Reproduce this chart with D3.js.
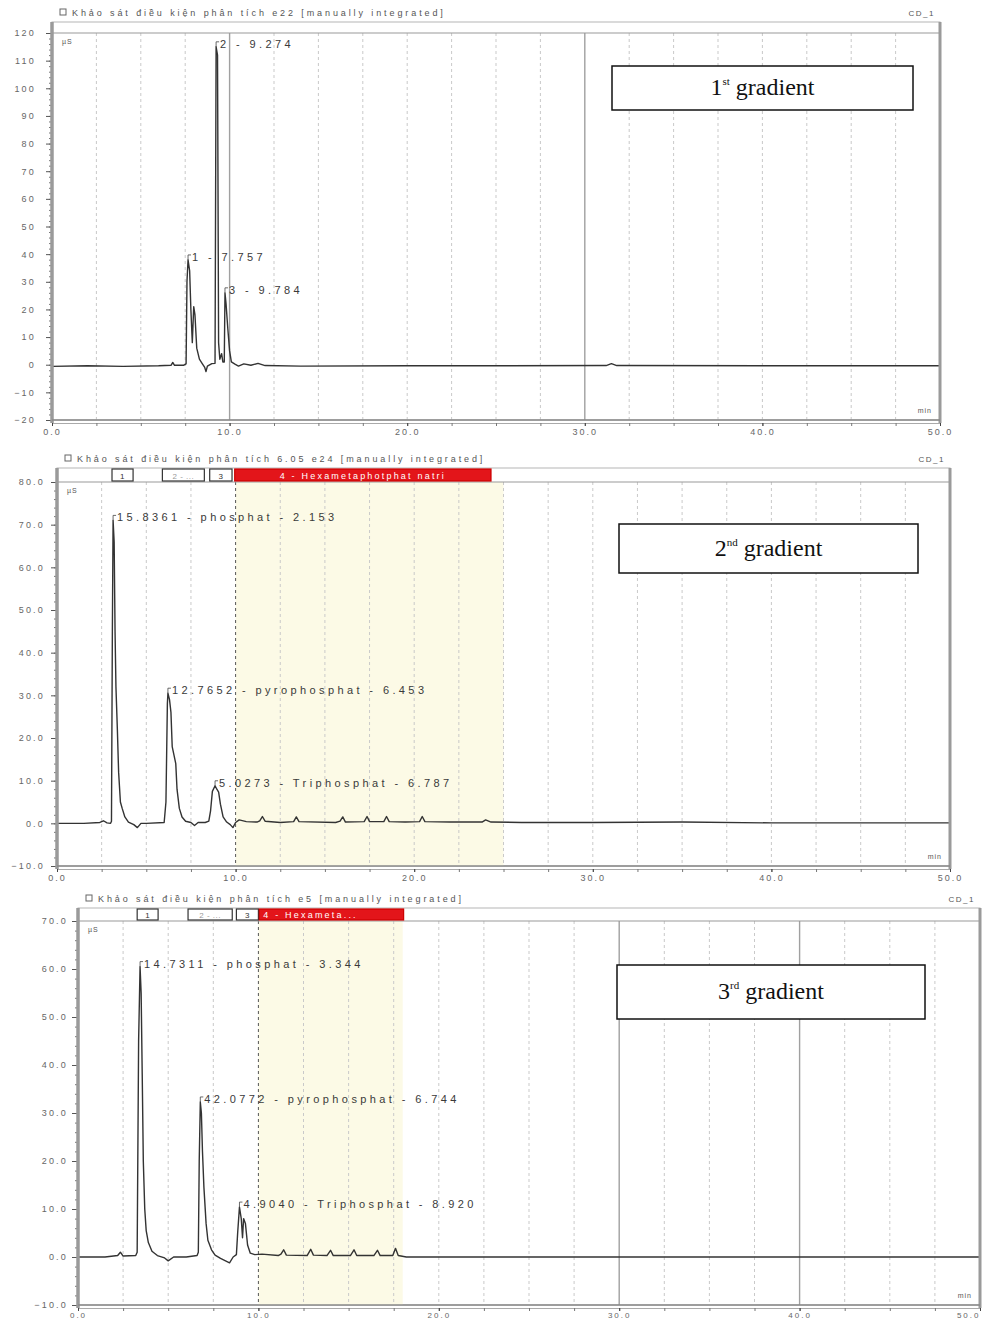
<!DOCTYPE html>
<html>
<head>
<meta charset="utf-8">
<script src="https://cdn.jsdelivr.net/npm/d3@7"></script>
<style>
body { margin: 0; background: #fff; }
svg text { font-family: Arial, "Liberation Sans", sans-serif; }
</style>
</head>
<body>
<svg id="chart"></svg>
<script>
// ---- data (time in min, signal in µS) ----
var trace1 = [[0,-0.6],[2,-0.4],[4,-0.6],[6,-0.4],[6.7,-0.2],[6.8,0.8],[6.9,-0.2],[7.4,-0.2],[7.55,0.3],[7.6,30],[7.66,37.9],[7.75,34],[7.82,20],[7.9,8],[7.98,21],[8.05,18],[8.15,6],[8.3,2],[8.45,0.5],[8.6,-1],[8.67,-2.5],[8.75,-0.5],[9.0,0.4],[9.18,0.5],[9.24,115],[9.32,112],[9.38,8],[9.45,2],[9.55,4],[9.62,1],[9.7,1],[9.74,26],[9.8,22],[9.9,13],[10.0,5],[10.1,1],[10.3,0.2],[10.5,-0.5],[10.8,0.3],[11.2,-0.2],[11.6,0.5],[12,-0.3],[14,-0.5],[20,-0.4],[25,-0.4],[31.2,-0.3],[31.5,0.4],[31.8,-0.3],[40,-0.4],[50,-0.4]];

var trace2 = [[0,0],[1.5,0],[2.4,0.2],[2.6,0.6],[2.8,0.1],[3.0,0],[3.05,0.5],[3.1,45],[3.14,71],[3.2,66],[3.25,45],[3.3,32],[3.38,22],[3.45,12],[3.55,5],[3.65,3.5],[3.8,1.5],[4.0,0.3],[4.3,-0.3],[4.5,-1],[4.7,0],[5,0],[6.0,0.2],[6.1,5],[6.18,28],[6.21,30.5],[6.3,29],[6.38,26],[6.45,18],[6.55,16],[6.65,14],[6.72,8],[6.85,3.5],[7.0,1.5],[7.2,0.5],[7.5,0.2],[7.7,-0.5],[7.9,0.2],[8.3,0.2],[8.5,0.5],[8.6,3],[8.7,7.5],[8.85,8.8],[8.95,8],[9.05,7.3],[9.15,4.5],[9.3,1.5],[9.5,0.3],[9.7,-0.3],[9.85,-1],[10.0,0.2],[10.2,0.8],[10.6,0.4],[11.2,0.3],[11.35,0.6],[11.5,1.6],[11.65,0.5],[12.5,0.2],[13.25,0.4],[13.4,1.5],[13.55,0.4],[15.6,0.2],[15.85,0.5],[16.0,1.5],[16.15,0.3],[17.2,0.4],[17.36,1.6],[17.5,0.4],[18.3,0.4],[18.45,1.6],[18.6,0.4],[19.5,0.3],[20.3,0.4],[20.45,1.6],[20.6,0.4],[22,0.3],[23.8,0.3],[24.0,0.8],[24.3,0.3],[26,0.2],[30,0.2],[35,0.3],[40,0.1],[50,0.1]];

var trace3 = [[0,0],[1.5,0],[2.2,0.3],[2.35,1],[2.5,0.2],[3.2,0.3],[3.28,1],[3.36,45],[3.44,60.5],[3.5,55],[3.56,38],[3.62,20],[3.7,10],[3.78,5.5],[3.9,3],[4.1,1.2],[4.4,0.3],[4.8,-0.2],[5.0,-0.8],[5.3,0],[6.0,0],[6.6,0.3],[6.67,1],[6.72,20],[6.78,32.3],[6.84,30],[6.9,22],[6.98,14.5],[7.1,7],[7.2,3.5],[7.4,1.5],[7.6,0.4],[7.9,-0.3],[8.4,-1.2],[8.6,0],[8.78,0.5],[8.85,5],[8.95,10.4],[9.05,8],[9.12,4],[9.18,8],[9.28,7],[9.4,2.5],[9.55,0.8],[9.8,0.5],[10.2,0.6],[11.1,0.3],[11.25,0.6],[11.4,1.5],[11.55,0.4],[12.7,0.3],[12.9,1.6],[13.05,0.4],[13.8,0.3],[14.0,1.4],[14.15,0.3],[15.1,0.3],[15.3,1.5],[15.45,0.3],[16.4,0.3],[16.6,1.4],[16.75,0.3],[17.45,0.3],[17.6,1.8],[17.75,0.3],[18.2,0],[25,0],[35,0],[50,0]];

var peaks1 = [{t:7.66, v:37.9, label:"1 - 7.757"}, {t:9.24, v:115, label:"2 - 9.274"}, {t:9.74, v:26, label:"3 - 9.784"}];
var peaks2 = [{t:3.14, v:71, label:"15.8361 - phosphat - 2.153"}, {t:6.21, v:30.5, label:"12.7652 - pyrophosphat - 6.453"}, {t:8.85, v:8.8, label:"5.0273 - Triphosphat - 6.787"}];
var peaks3 = [{t:3.44, v:60.5, label:"14.7311 - phosphat - 3.344"}, {t:6.78, v:32.3, label:"42.0772 - pyrophosphat - 6.744"}, {t:8.95, v:10.4, label:"4.9040 - Triphosphat - 8.920"}];

var xTicks = [0, 10, 20, 30, 40, 50];
var yTicks1 = [-20, -10, 0, 10, 20, 30, 40, 50, 60, 70, 80, 90, 100, 110, 120];
var yTicks2 = [-10, 0, 10, 20, 30, 40, 50, 60, 70, 80];
var yTicks3 = [-10, 0, 10, 20, 30, 40, 50, 60, 70];

var titles = ["Khảo sát điều kiện phân tích e22 [manually integrated]",
              "Khảo sát điều kiện phân tích 6.05 e24 [manually integrated]",
              "Khảo sát điều kiện phân tích e5 [manually integrated]"];
var gradNum = ["1", "2", "3"];
var gradSup = ["st", "nd", "rd"];

// timed-event windows in the header strip (start, end, text)
var bands2 = [[3.08, 4.26, "1"], [5.9, 8.25, "2 - ..."], [8.55, 9.8, "3"], [9.95, 24.3, "4 - Hexametaphotphat natri"]];
var bands3 = [[3.28, 4.44, "1"], [6.1, 8.55, "2 - ..."], [8.78, 10.0, "3"], [10.05, 18.05, "4 - Hexameta..."]];
var shade2 = [10, 25];
var shade3 = [10, 18];

var svg = d3.select("#chart").attr("width", 988).attr("height", 1320);

var panels = [
  {trace: trace1, peaks: peaks1, yTicks: yTicks1, fmt: d3.format("d"), bands: [], shade: null,
   left: 52, right: 940, frameTop: 22, top: 33, bottom: 420, yMin: -20, yMax: 120, gap: 14, xPad: 3,
   solid: [10, 30], dark: [], box: {x: 612, y: 66, w: 301, h: 44}},
  {trace: trace2, peaks: peaks2, yTicks: yTicks2, fmt: d3.format(".1f"), bands: bands2, shade: shade2,
   left: 57, right: 950, frameTop: 468, top: 482, bottom: 866, yMin: -10, yMax: 80, gap: 10, xPad: 3,
   solid: [], dark: [10], box: {x: 619, y: 524, w: 299, h: 49}},
  {trace: trace3, peaks: peaks3, yTicks: yTicks3, fmt: d3.format(".1f"), bands: bands3, shade: shade3,
   left: 78, right: 980, frameTop: 908, top: 921, bottom: 1305, yMin: -10, yMax: 70, gap: 8, xPad: 1,
   solid: [30, 40], dark: [10, 18], box: {x: 617, y: 965, w: 308, h: 54}}
];

panels.forEach(function(p, i) {
  var x = d3.scaleLinear().domain([0, 50]).range([p.left, p.right]);
  var y = d3.scaleLinear().domain([p.yMin, p.yMax]).range([p.bottom, p.top]);
  var g = svg.append("g");

  // title line above the frame
  g.append("rect").attr("x", p.left + 8).attr("y", p.frameTop - 13).attr("width", 6).attr("height", 6)
    .attr("fill", "#fff").attr("stroke", "#666");
  g.append("text").attr("x", p.left + 20).attr("y", p.frameTop - 6)
    .attr("font-size", 9).attr("letter-spacing", 2.9).attr("fill", "#555").text(titles[i]);
  g.append("text").attr("x", p.right - 5).attr("y", p.frameTop - 6).attr("text-anchor", "end")
    .attr("font-size", 8).attr("letter-spacing", 1.5).attr("fill", "#555").text("CD_1");

  // frame
  g.append("rect").attr("x", p.left).attr("y", p.frameTop)
    .attr("width", p.right - p.left).attr("height", p.bottom - p.frameTop)
    .attr("fill", "#fff").attr("stroke", "#b5b5b5");

  if (p.shade) {
    g.append("rect").attr("x", x(p.shade[0])).attr("y", p.top)
      .attr("width", x(p.shade[1]) - x(p.shade[0])).attr("height", p.bottom - p.top)
      .attr("fill", "#fcfae6");
  }

  // vertical grid every 2.5 min
  g.selectAll(".grid").data(d3.range(2.5, 50, 2.5)).enter().append("line")
    .attr("x1", function(d) { return x(d); }).attr("x2", function(d) { return x(d); })
    .attr("y1", p.top).attr("y2", p.bottom)
    .attr("stroke", function(d) {
      if (p.dark.indexOf(d) >= 0) return "#555";
      if (p.solid.indexOf(d) >= 0) return "#a0a0a0";
      return "#c9c9c9";
    })
    .attr("stroke-width", function(d) { return p.solid.indexOf(d) >= 0 ? 1.4 : 1; })
    .attr("stroke-dasharray", function(d) { return p.solid.indexOf(d) >= 0 ? null : "3,3"; });

  // header strip
  g.append("line").attr("x1", p.left).attr("x2", p.right).attr("y1", p.top).attr("y2", p.top)
    .attr("stroke", "#999").attr("stroke-width", 1.2);
  p.bands.forEach(function(b, j) {
    var red = j === p.bands.length - 1;
    g.append("rect").attr("x", x(b[0])).attr("y", p.frameTop + 1)
      .attr("width", x(b[1]) - x(b[0])).attr("height", p.top - p.frameTop - 2)
      .attr("fill", red ? "#e3151a" : "#fff").attr("stroke", red ? "#c00" : "#333").attr("stroke-width", 1.2);
    g.append("text")
      .attr("x", red && i === 2 ? x(b[0]) + 4 : (x(b[0]) + x(b[1])) / 2)
      .attr("y", p.top - 3).attr("text-anchor", red && i === 2 ? "start" : "middle")
      .attr("font-size", red ? 9 : 8).attr("letter-spacing", red ? 2.2 : 0.5)
      .attr("fill", red ? "#fff" : (j === 1 ? "#999" : "#333")).text(b[2]);
  });

  // trace
  var line = d3.line().x(function(d) { return x(d[0]); }).y(function(d) { return y(d[1]); });
  g.append("path").datum(p.trace).attr("d", line)
    .attr("fill", "none").attr("stroke", "#333").attr("stroke-width", 1.4).attr("stroke-linejoin", "round");

  // peak labels
  p.peaks.forEach(function(pk) {
    var px = x(pk.t), py = y(pk.v);
    g.append("path").attr("d", "M" + px + "," + py + "V" + (py - 5) + "h3")
      .attr("fill", "none").attr("stroke", "#444").attr("stroke-width", 0.8);
    g.append("text").attr("x", px + 4).attr("y", py + 1)
      .attr("font-size", 11).attr("letter-spacing", 3.4).attr("fill", "#3a3a3a").text(pk.label);
  });

  // y axis
  var yMinor = d3.range(p.yMin, p.yMax + 0.01, 2);
  g.append("g").attr("transform", "translate(" + p.left + ",0)")
    .call(d3.axisLeft(y).tickValues(yMinor).tickSize(3).tickFormat(""))
    .call(function(a) { a.select(".domain").remove(); a.selectAll("line").attr("stroke", "#777"); });
  g.append("g").attr("transform", "translate(" + p.left + ",0)")
    .call(d3.axisLeft(y).tickValues(p.yTicks).tickSize(6).tickPadding(p.gap - 4).tickFormat(p.fmt))
    .call(function(a) {
      a.select(".domain").remove();
      a.selectAll("line").attr("stroke", "#555");
      a.selectAll("text").attr("font-size", 9).attr("letter-spacing", 2.2).attr("fill", "#666");
    });
  g.append("line").attr("x1", p.left).attr("x2", p.left).attr("y1", p.frameTop).attr("y2", p.bottom + 3)
    .attr("stroke", "#9a9a9a").attr("stroke-width", 3.5);
  g.append("line").attr("x1", p.right).attr("x2", p.right).attr("y1", p.frameTop).attr("y2", p.bottom + 3)
    .attr("stroke", "#9a9a9a").attr("stroke-width", 3);

  // x axis (double line)
  g.append("line").attr("x1", p.left).attr("x2", p.right).attr("y1", p.bottom).attr("y2", p.bottom)
    .attr("stroke", "#888").attr("stroke-width", 1.5);
  g.append("g").attr("transform", "translate(0," + (p.bottom + 3) + ")")
    .call(d3.axisBottom(x).tickValues(d3.range(0, 50.01, 2.5)).tickSize(3).tickFormat(""))
    .call(function(a) { a.select(".domain").attr("stroke", "#aaa"); a.selectAll("line").attr("stroke", "#777"); });
  g.append("g").attr("transform", "translate(0," + (p.bottom + 3) + ")")
    .call(d3.axisBottom(x).tickValues(xTicks).tickSize(3).tickPadding(p.xPad).tickFormat(d3.format(".1f")))
    .call(function(a) {
      a.select(".domain").remove();
      a.selectAll("line").attr("stroke", "#444");
      a.selectAll("text").attr("font-size", i === 2 ? 8 : 9).attr("letter-spacing", 2).attr("fill", "#666")
        .attr("text-anchor", function(d) { return x(d) + 14 > 988 ? "end" : "middle"; });
    });

  // unit labels
  g.append("text").attr("x", p.left + 10).attr("y", p.top + 11).attr("font-size", 7)
    .attr("letter-spacing", 1).attr("fill", "#555").text("µS");
  g.append("text").attr("x", p.right - 8).attr("y", p.bottom - 7).attr("text-anchor", "end")
    .attr("font-size", 7).attr("letter-spacing", 1).attr("fill", "#555").text("min");

  // gradient box
  var bx = p.box;
  g.append("rect").attr("x", bx.x).attr("y", bx.y).attr("width", bx.w).attr("height", bx.h)
    .attr("fill", "#fff").attr("stroke", "#111").attr("stroke-width", 1.5);
  var t = g.append("text").attr("x", bx.x + bx.w / 2).attr("y", bx.y + bx.h / 2 + 7)
    .attr("text-anchor", "middle").attr("fill", "#111")
    .style("font-family", "'Liberation Serif', 'Times New Roman', serif").attr("font-size", 24);
  t.append("tspan").text(gradNum[i]);
  t.append("tspan").attr("font-size", 11).attr("dy", -10).text(gradSup[i]);
  t.append("tspan").attr("dy", 10).text(" gradient");
});
</script>
</body>
</html>
